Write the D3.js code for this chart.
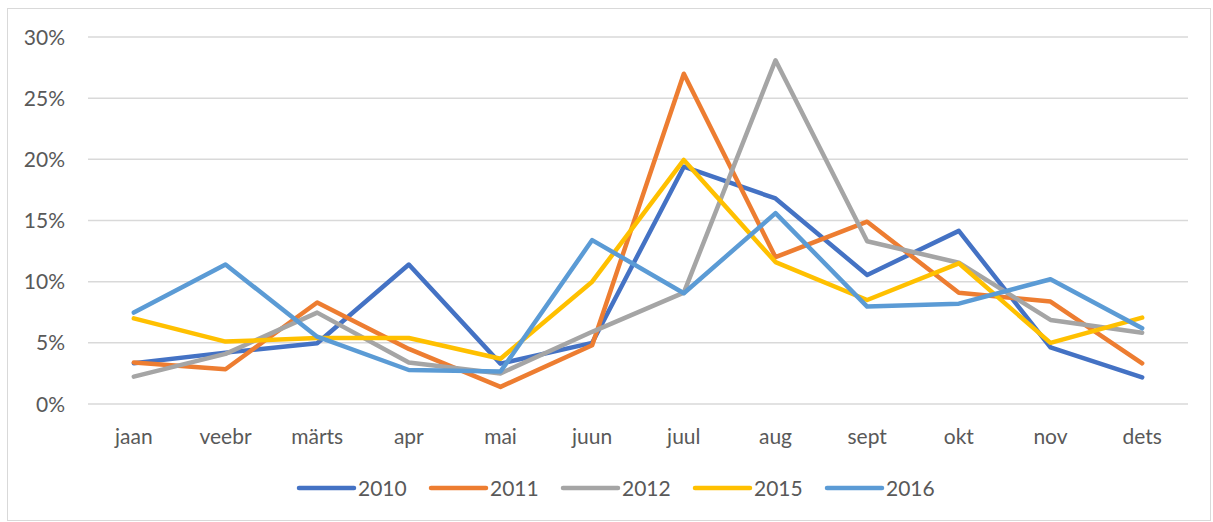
<!DOCTYPE html>
<html>
<head>
<meta charset="utf-8">
<script src="https://cdn.jsdelivr.net/npm/d3@7"></script>
<style>
  html, body { margin: 0; padding: 0; background: #fff; }
  svg { display: block; }
  text { font-family: Lato, "Liberation Sans", sans-serif; fill: #595959; }
</style>
</head>
<body>
<svg id="chart" width="1213" height="522"></svg>
<script>
const months = ["jaan","veebr","märts","apr","mai","juun","juul","aug","sept","okt","nov","dets"];
const seriesNames = ["2010","2011","2012","2015","2016"];
const s2010 = [3.33, 4.2, 4.96, 11.4, 3.3, 5.0, 19.4, 16.8, 10.55, 14.15, 4.63, 2.18];
const s2011 = [3.4, 2.84, 8.3, 4.5, 1.4, 4.8, 27.0, 12.0, 14.9, 9.1, 8.37, 3.33];
const s2012 = [2.24, 4.1, 7.47, 3.4, 2.5, 5.9, 9.1, 28.1, 13.3, 11.55, 6.87, 5.83];
const s2015 = [7.0, 5.1, 5.4, 5.4, 3.7, 10.0, 19.95, 11.6, 8.5, 11.5, 5.0, 7.06];
const s2016 = [7.47, 11.4, 5.5, 2.78, 2.65, 13.4, 9.05, 15.6, 7.96, 8.2, 10.2, 6.19];
const yTicks = [0, 5, 10, 15, 20, 25, 30];
const colors = ["#4472C4", "#ED7D31", "#A5A5A5", "#FFC000", "#5B9BD5"];

const seriesValues = [s2010, s2011, s2012, s2015, s2016];
const svg = d3.select("#chart");

// chart frame
svg.append("rect").attr("x", 7.5).attr("y", 8.5).attr("width", 1203).attr("height", 512)
  .attr("fill", "none").attr("stroke", "#d9d9d9").attr("stroke-width", 1);

const x = d3.scaleBand().domain(months).range([88, 1188]).padding(0);
const y = d3.scaleLinear().domain([0, 30]).range([404, 37]);
const cx = m => x(m) + x.bandwidth() / 2;

// gridlines
svg.append("g").selectAll("line").data(yTicks).join("line")
  .attr("x1", 88).attr("x2", 1188)
  .attr("y1", d => y(d)).attr("y2", d => y(d))
  .attr("stroke", "#d9d9d9").attr("stroke-width", 1.5);

// y labels
svg.append("g").selectAll("text").data(yTicks).join("text")
  .attr("x", 65).attr("y", d => y(d)).attr("dy", "0.36em")
  .attr("text-anchor", "end").attr("font-size", 21)
  .text(d => d + "%");

// x labels
svg.append("g").selectAll("text").data(months).join("text")
  .attr("x", d => cx(d)).attr("y", 444)
  .attr("text-anchor", "middle").attr("font-size", 21)
  .text(d => d);

// lines
const line = d3.line().x((d, i) => cx(months[i])).y(d => y(d));
svg.append("g").selectAll("path").data(seriesValues).join("path")
  .attr("d", d => line(d))
  .attr("fill", "none")
  .attr("stroke", (d, i) => colors[i])
  .attr("stroke-width", 4.5)
  .attr("stroke-linejoin", "round")
  .attr("stroke-linecap", "round");

// legend
const lg = svg.append("g").selectAll("g").data(seriesNames).join("g")
  .attr("transform", (d, i) => `translate(${299 + i * 132},488)`);
lg.append("line").attr("x1", 0).attr("x2", 55).attr("y1", 0).attr("y2", 0)
  .attr("stroke", (d, i) => colors[i]).attr("stroke-width", 4.5).attr("stroke-linecap", "round");
lg.append("text").attr("x", 59).attr("y", 0).attr("dy", "0.36em")
  .attr("font-size", 21).text(d => d);
</script>
</body>
</html>
